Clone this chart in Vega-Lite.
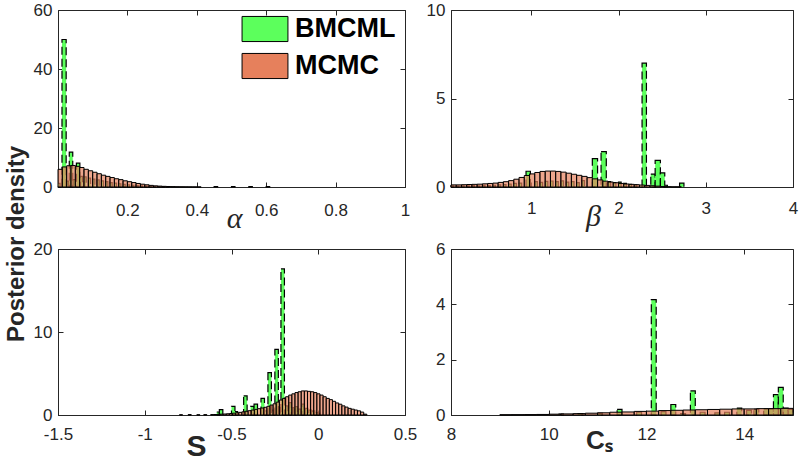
{
  "$schema": "https://vega.github.io/schema/vega-lite/v6.json",
  "background": "white",
  "padding": {"left": 4, "top": 0, "right": 2, "bottom": 0},
  "config": {
    "view": {"stroke": "#262626", "strokeWidth": 1},
    "axis": {"grid": false, "tickSize": -5, "tickColor": "#262626", "domainColor": "#262626", "labelFont": "Liberation Sans", "labelFontSize": 17, "labelColor": "#262626", "labelFlush": false, "labelOverlap": false, "titleColor": "#262626"},
    "bar": {"stroke": "black", "strokeWidth": 1}
  },
  "title": {"text": "Posterior density", "orient": "left", "anchor": "middle", "font": "Liberation Sans", "fontSize": 24, "fontWeight": "bold", "color": "#262626", "offset": 4, "dx": -13},
  "datasets": {
    "A": [
      {"s": "BMCML", "x0": 0.0, "x1": 0.006, "y": 1.2},
      {"s": "BMCML", "x0": 0.0115, "x1": 0.0235, "y": 50},
      {"s": "BMCML", "x0": 0.025, "x1": 0.031, "y": 2.0},
      {"s": "BMCML", "x0": 0.0325, "x1": 0.0425, "y": 11.8},
      {"s": "BMCML", "x0": 0.0435, "x1": 0.05, "y": 2.5},
      {"s": "BMCML", "x0": 0.053, "x1": 0.063, "y": 8.1},
      {"s": "BMCML", "x0": 0.0645, "x1": 0.0705, "y": 3.6},
      {"s": "BMCML", "x0": 0.075, "x1": 0.08125, "y": 3.4},
      {"s": "BMCML", "x0": 0.0875, "x1": 0.09375, "y": 3.0},
      {"s": "BMCML", "x0": 0.1, "x1": 0.10625, "y": 2.7},
      {"s": "BMCML", "x0": 0.1125, "x1": 0.11875, "y": 2.4},
      {"s": "BMCML", "x0": 0.125, "x1": 0.13125, "y": 2.1},
      {"s": "BMCML", "x0": 0.1375, "x1": 0.14375, "y": 1.8},
      {"s": "BMCML", "x0": 0.15, "x1": 0.15625, "y": 1.5},
      {"s": "BMCML", "x0": 0.1625, "x1": 0.16875, "y": 1.3},
      {"s": "BMCML", "x0": 0.175, "x1": 0.18125, "y": 1.1},
      {"s": "BMCML", "x0": 0.1875, "x1": 0.19375, "y": 0.9},
      {"s": "BMCML", "x0": 0.2, "x1": 0.20625, "y": 0.75},
      {"s": "BMCML", "x0": 0.2125, "x1": 0.21875, "y": 0.6},
      {"s": "BMCML", "x0": 0.225, "x1": 0.23125, "y": 0.5},
      {"s": "BMCML", "x0": 0.2375, "x1": 0.24375, "y": 0.4},
      {"s": "BMCML", "x0": 0.25, "x1": 0.25625, "y": 0.3},
      {"s": "BMCML", "x0": 0.2625, "x1": 0.26875, "y": 0.22},
      {"s": "BMCML", "x0": 0.275, "x1": 0.28125, "y": 0.15},
      {"s": "BMCML", "x0": 0.2875, "x1": 0.29375, "y": 0.1},
      {"s": "BMCML", "x0": 0.3, "x1": 0.30625, "y": 0.07},
      {"s": "BMCML", "x0": 0.3125, "x1": 0.31875, "y": 0.05},
      {"s": "BMCML", "x0": 0.45, "x1": 0.46, "y": 0.12},
      {"s": "BMCML", "x0": 0.5, "x1": 0.51, "y": 0.12},
      {"s": "BMCML", "x0": 0.55, "x1": 0.56, "y": 0.12},
      {"s": "BMCML", "x0": 0.6, "x1": 0.61, "y": 0.12},
      {"s": "MCMC", "x0": 0.0, "x1": 0.0125, "y": 6.0},
      {"s": "MCMC", "x0": 0.0125, "x1": 0.025, "y": 6.8},
      {"s": "MCMC", "x0": 0.025, "x1": 0.0375, "y": 7.2},
      {"s": "MCMC", "x0": 0.0375, "x1": 0.05, "y": 7.3},
      {"s": "MCMC", "x0": 0.05, "x1": 0.0625, "y": 7.0},
      {"s": "MCMC", "x0": 0.0625, "x1": 0.075, "y": 6.6},
      {"s": "MCMC", "x0": 0.075, "x1": 0.0875, "y": 6.0},
      {"s": "MCMC", "x0": 0.0875, "x1": 0.1, "y": 5.5},
      {"s": "MCMC", "x0": 0.1, "x1": 0.1125, "y": 5.0},
      {"s": "MCMC", "x0": 0.1125, "x1": 0.125, "y": 4.5},
      {"s": "MCMC", "x0": 0.125, "x1": 0.1375, "y": 4.0},
      {"s": "MCMC", "x0": 0.1375, "x1": 0.15, "y": 3.6},
      {"s": "MCMC", "x0": 0.15, "x1": 0.1625, "y": 3.2},
      {"s": "MCMC", "x0": 0.1625, "x1": 0.175, "y": 2.8},
      {"s": "MCMC", "x0": 0.175, "x1": 0.1875, "y": 2.5},
      {"s": "MCMC", "x0": 0.1875, "x1": 0.2, "y": 2.1},
      {"s": "MCMC", "x0": 0.2, "x1": 0.2125, "y": 1.8},
      {"s": "MCMC", "x0": 0.2125, "x1": 0.225, "y": 1.5},
      {"s": "MCMC", "x0": 0.225, "x1": 0.2375, "y": 1.2},
      {"s": "MCMC", "x0": 0.2375, "x1": 0.25, "y": 0.95},
      {"s": "MCMC", "x0": 0.25, "x1": 0.2625, "y": 0.75},
      {"s": "MCMC", "x0": 0.2625, "x1": 0.275, "y": 0.55},
      {"s": "MCMC", "x0": 0.275, "x1": 0.2875, "y": 0.4},
      {"s": "MCMC", "x0": 0.2875, "x1": 0.3, "y": 0.3},
      {"s": "MCMC", "x0": 0.3, "x1": 0.3125, "y": 0.22},
      {"s": "MCMC", "x0": 0.3125, "x1": 0.325, "y": 0.16},
      {"s": "MCMC", "x0": 0.325, "x1": 0.3375, "y": 0.12},
      {"s": "MCMC", "x0": 0.3375, "x1": 0.35, "y": 0.09},
      {"s": "MCMC", "x0": 0.35, "x1": 0.3625, "y": 0.07},
      {"s": "MCMC", "x0": 0.3625, "x1": 0.375, "y": 0.05},
      {"s": "MCMC", "x0": 0.375, "x1": 0.3875, "y": 0.04},
      {"s": "MCMC", "x0": 0.3875, "x1": 0.4, "y": 0.03},
      {"s": "MCMC", "x0": 0.4, "x1": 0.4125, "y": 0.02}
    ],
    "B": [
      {"s": "BMCML", "x0": 0.08, "x1": 0.11, "y": 0.06},
      {"s": "BMCML", "x0": 0.14, "x1": 0.17, "y": 0.05},
      {"s": "BMCML", "x0": 0.2, "x1": 0.23, "y": 0.07},
      {"s": "BMCML", "x0": 0.26, "x1": 0.29, "y": 0.06},
      {"s": "BMCML", "x0": 0.32, "x1": 0.35, "y": 0.08},
      {"s": "BMCML", "x0": 0.38, "x1": 0.41, "y": 0.07},
      {"s": "BMCML", "x0": 0.44, "x1": 0.47, "y": 0.09},
      {"s": "BMCML", "x0": 0.5, "x1": 0.53, "y": 0.08},
      {"s": "BMCML", "x0": 0.56, "x1": 0.59, "y": 0.1},
      {"s": "BMCML", "x0": 0.62, "x1": 0.65, "y": 0.12},
      {"s": "BMCML", "x0": 0.68, "x1": 0.71, "y": 0.13},
      {"s": "BMCML", "x0": 0.74, "x1": 0.77, "y": 0.16},
      {"s": "BMCML", "x0": 0.8, "x1": 0.83, "y": 0.2},
      {"s": "BMCML", "x0": 0.86, "x1": 0.89, "y": 0.22},
      {"s": "BMCML", "x0": 0.94, "x1": 0.99, "y": 0.89},
      {"s": "BMCML", "x0": 1.04, "x1": 1.07, "y": 0.3},
      {"s": "BMCML", "x0": 1.1, "x1": 1.13, "y": 0.26},
      {"s": "BMCML", "x0": 1.16, "x1": 1.19, "y": 0.32},
      {"s": "BMCML", "x0": 1.22, "x1": 1.25, "y": 0.34},
      {"s": "BMCML", "x0": 1.28, "x1": 1.31, "y": 0.3},
      {"s": "BMCML", "x0": 1.34, "x1": 1.37, "y": 0.35},
      {"s": "BMCML", "x0": 1.4, "x1": 1.43, "y": 0.28},
      {"s": "BMCML", "x0": 1.46, "x1": 1.49, "y": 0.3},
      {"s": "BMCML", "x0": 1.52, "x1": 1.55, "y": 0.25},
      {"s": "BMCML", "x0": 1.58, "x1": 1.61, "y": 0.36},
      {"s": "BMCML", "x0": 1.7, "x1": 1.76, "y": 1.6},
      {"s": "BMCML", "x0": 1.8, "x1": 1.86, "y": 2.0},
      {"s": "BMCML", "x0": 1.88, "x1": 1.91, "y": 0.3},
      {"s": "BMCML", "x0": 1.94, "x1": 1.97, "y": 0.25},
      {"s": "BMCML", "x0": 2.0, "x1": 2.03, "y": 0.28},
      {"s": "BMCML", "x0": 2.06, "x1": 2.09, "y": 0.2},
      {"s": "BMCML", "x0": 2.12, "x1": 2.15, "y": 0.15},
      {"s": "BMCML", "x0": 2.18, "x1": 2.21, "y": 0.12},
      {"s": "BMCML", "x0": 2.27, "x1": 2.32, "y": 7.0},
      {"s": "BMCML", "x0": 2.37, "x1": 2.42, "y": 0.73},
      {"s": "BMCML", "x0": 2.42, "x1": 2.48, "y": 1.5},
      {"s": "BMCML", "x0": 2.48, "x1": 2.53, "y": 0.8},
      {"s": "BMCML", "x0": 2.53, "x1": 2.56, "y": 0.1},
      {"s": "BMCML", "x0": 2.7, "x1": 2.75, "y": 0.22},
      {"s": "MCMC", "x0": 0.08, "x1": 0.14, "y": 0.12},
      {"s": "MCMC", "x0": 0.14, "x1": 0.2, "y": 0.12},
      {"s": "MCMC", "x0": 0.2, "x1": 0.26, "y": 0.13},
      {"s": "MCMC", "x0": 0.26, "x1": 0.32, "y": 0.14},
      {"s": "MCMC", "x0": 0.32, "x1": 0.38, "y": 0.15},
      {"s": "MCMC", "x0": 0.38, "x1": 0.44, "y": 0.16},
      {"s": "MCMC", "x0": 0.44, "x1": 0.5, "y": 0.18},
      {"s": "MCMC", "x0": 0.5, "x1": 0.56, "y": 0.2},
      {"s": "MCMC", "x0": 0.56, "x1": 0.62, "y": 0.22},
      {"s": "MCMC", "x0": 0.62, "x1": 0.68, "y": 0.26},
      {"s": "MCMC", "x0": 0.68, "x1": 0.74, "y": 0.3},
      {"s": "MCMC", "x0": 0.74, "x1": 0.8, "y": 0.36},
      {"s": "MCMC", "x0": 0.8, "x1": 0.86, "y": 0.44},
      {"s": "MCMC", "x0": 0.86, "x1": 0.92, "y": 0.54},
      {"s": "MCMC", "x0": 0.92, "x1": 0.98, "y": 0.65},
      {"s": "MCMC", "x0": 0.98, "x1": 1.04, "y": 0.74},
      {"s": "MCMC", "x0": 1.04, "x1": 1.1, "y": 0.82},
      {"s": "MCMC", "x0": 1.1, "x1": 1.16, "y": 0.88},
      {"s": "MCMC", "x0": 1.16, "x1": 1.22, "y": 0.9},
      {"s": "MCMC", "x0": 1.22, "x1": 1.28, "y": 0.9},
      {"s": "MCMC", "x0": 1.28, "x1": 1.34, "y": 0.88},
      {"s": "MCMC", "x0": 1.34, "x1": 1.4, "y": 0.84},
      {"s": "MCMC", "x0": 1.4, "x1": 1.46, "y": 0.78},
      {"s": "MCMC", "x0": 1.46, "x1": 1.52, "y": 0.72},
      {"s": "MCMC", "x0": 1.52, "x1": 1.58, "y": 0.66},
      {"s": "MCMC", "x0": 1.58, "x1": 1.64, "y": 0.6},
      {"s": "MCMC", "x0": 1.64, "x1": 1.7, "y": 0.53},
      {"s": "MCMC", "x0": 1.7, "x1": 1.76, "y": 0.46},
      {"s": "MCMC", "x0": 1.76, "x1": 1.82, "y": 0.4},
      {"s": "MCMC", "x0": 1.82, "x1": 1.88, "y": 0.33},
      {"s": "MCMC", "x0": 1.88, "x1": 1.94, "y": 0.28},
      {"s": "MCMC", "x0": 1.94, "x1": 2.0, "y": 0.24},
      {"s": "MCMC", "x0": 2.0, "x1": 2.06, "y": 0.2},
      {"s": "MCMC", "x0": 2.06, "x1": 2.12, "y": 0.17},
      {"s": "MCMC", "x0": 2.12, "x1": 2.18, "y": 0.15},
      {"s": "MCMC", "x0": 2.18, "x1": 2.24, "y": 0.13},
      {"s": "MCMC", "x0": 2.24, "x1": 2.3, "y": 0.11},
      {"s": "MCMC", "x0": 2.3, "x1": 2.36, "y": 0.09},
      {"s": "MCMC", "x0": 2.36, "x1": 2.42, "y": 0.07},
      {"s": "MCMC", "x0": 2.42, "x1": 2.48, "y": 0.05},
      {"s": "MCMC", "x0": 2.48, "x1": 2.54, "y": 0.03},
      {"s": "MCMC", "x0": 2.54, "x1": 2.6, "y": 0.02},
      {"s": "MCMC", "x0": 2.6, "x1": 2.66, "y": 0.01},
      {"s": "MCMC", "x0": 2.66, "x1": 2.72, "y": 0.01}
    ],
    "C": [
      {"s": "BMCML", "x0": -0.585, "x1": -0.57, "y": 0.36},
      {"s": "BMCML", "x0": -0.57, "x1": -0.55, "y": 0.64},
      {"s": "BMCML", "x0": -0.5, "x1": -0.48, "y": 1.04},
      {"s": "BMCML", "x0": -0.48, "x1": -0.465, "y": 0.4},
      {"s": "BMCML", "x0": -0.43, "x1": -0.41, "y": 2.3},
      {"s": "BMCML", "x0": -0.39, "x1": -0.37, "y": 1.04},
      {"s": "BMCML", "x0": -0.37, "x1": -0.35, "y": 1.3},
      {"s": "BMCML", "x0": -0.33, "x1": -0.31, "y": 2.0},
      {"s": "BMCML", "x0": -0.305, "x1": -0.295, "y": 0.5},
      {"s": "BMCML", "x0": -0.29, "x1": -0.27, "y": 5.1},
      {"s": "BMCML", "x0": -0.265, "x1": -0.255, "y": 0.6},
      {"s": "BMCML", "x0": -0.25, "x1": -0.23, "y": 7.9},
      {"s": "BMCML", "x0": -0.228, "x1": -0.218, "y": 0.9},
      {"s": "BMCML", "x0": -0.215, "x1": -0.195, "y": 17.6},
      {"s": "BMCML", "x0": -0.19, "x1": -0.175, "y": 1.1},
      {"s": "BMCML", "x0": -0.17, "x1": -0.155, "y": 1.5},
      {"s": "BMCML", "x0": -0.15, "x1": -0.14, "y": 0.9},
      {"s": "BMCML", "x0": -0.135, "x1": -0.12, "y": 1.0},
      {"s": "BMCML", "x0": -0.115, "x1": -0.1, "y": 0.7},
      {"s": "BMCML", "x0": -0.095, "x1": -0.08, "y": 1.3},
      {"s": "BMCML", "x0": -0.075, "x1": -0.06, "y": 0.8},
      {"s": "BMCML", "x0": -0.055, "x1": -0.04, "y": 0.6},
      {"s": "BMCML", "x0": -0.035, "x1": -0.02, "y": 0.5},
      {"s": "BMCML", "x0": -0.015, "x1": 0.0, "y": 0.3},
      {"s": "BMCML", "x0": 0.0, "x1": 0.01, "y": 0.2},
      {"s": "MCMC", "x0": -0.8, "x1": -0.782, "y": 0.03},
      {"s": "MCMC", "x0": -0.75, "x1": -0.732, "y": 0.05},
      {"s": "MCMC", "x0": -0.7, "x1": -0.682, "y": 0.03},
      {"s": "MCMC", "x0": -0.66, "x1": -0.642, "y": 0.04},
      {"s": "MCMC", "x0": -0.62, "x1": -0.602, "y": 0.05},
      {"s": "MCMC", "x0": -0.602, "x1": -0.584, "y": 0.06},
      {"s": "MCMC", "x0": -0.584, "x1": -0.566, "y": 0.08},
      {"s": "MCMC", "x0": -0.566, "x1": -0.548, "y": 0.1},
      {"s": "MCMC", "x0": -0.548, "x1": -0.53, "y": 0.12},
      {"s": "MCMC", "x0": -0.53, "x1": -0.512, "y": 0.15},
      {"s": "MCMC", "x0": -0.512, "x1": -0.494, "y": 0.18},
      {"s": "MCMC", "x0": -0.494, "x1": -0.476, "y": 0.22},
      {"s": "MCMC", "x0": -0.476, "x1": -0.458, "y": 0.27},
      {"s": "MCMC", "x0": -0.458, "x1": -0.44, "y": 0.32},
      {"s": "MCMC", "x0": -0.44, "x1": -0.422, "y": 0.38},
      {"s": "MCMC", "x0": -0.422, "x1": -0.404, "y": 0.45},
      {"s": "MCMC", "x0": -0.404, "x1": -0.386, "y": 0.52},
      {"s": "MCMC", "x0": -0.386, "x1": -0.368, "y": 0.6},
      {"s": "MCMC", "x0": -0.368, "x1": -0.35, "y": 0.68},
      {"s": "MCMC", "x0": -0.35, "x1": -0.332, "y": 0.76},
      {"s": "MCMC", "x0": -0.332, "x1": -0.314, "y": 0.84},
      {"s": "MCMC", "x0": -0.314, "x1": -0.296, "y": 0.93},
      {"s": "MCMC", "x0": -0.296, "x1": -0.278, "y": 1.05},
      {"s": "MCMC", "x0": -0.278, "x1": -0.26, "y": 1.2},
      {"s": "MCMC", "x0": -0.26, "x1": -0.242, "y": 1.35},
      {"s": "MCMC", "x0": -0.242, "x1": -0.224, "y": 1.55},
      {"s": "MCMC", "x0": -0.224, "x1": -0.206, "y": 1.8},
      {"s": "MCMC", "x0": -0.206, "x1": -0.188, "y": 2.0},
      {"s": "MCMC", "x0": -0.188, "x1": -0.17, "y": 2.2},
      {"s": "MCMC", "x0": -0.17, "x1": -0.152, "y": 2.4},
      {"s": "MCMC", "x0": -0.152, "x1": -0.134, "y": 2.55},
      {"s": "MCMC", "x0": -0.134, "x1": -0.116, "y": 2.7},
      {"s": "MCMC", "x0": -0.116, "x1": -0.098, "y": 2.8},
      {"s": "MCMC", "x0": -0.098, "x1": -0.08, "y": 2.9},
      {"s": "MCMC", "x0": -0.08, "x1": -0.062, "y": 2.9},
      {"s": "MCMC", "x0": -0.062, "x1": -0.044, "y": 2.85},
      {"s": "MCMC", "x0": -0.044, "x1": -0.026, "y": 2.8},
      {"s": "MCMC", "x0": -0.026, "x1": -0.008, "y": 2.7},
      {"s": "MCMC", "x0": -0.008, "x1": 0.01, "y": 2.55},
      {"s": "MCMC", "x0": 0.01, "x1": 0.028, "y": 2.4},
      {"s": "MCMC", "x0": 0.028, "x1": 0.046, "y": 2.2},
      {"s": "MCMC", "x0": 0.046, "x1": 0.064, "y": 2.0},
      {"s": "MCMC", "x0": 0.064, "x1": 0.082, "y": 1.85},
      {"s": "MCMC", "x0": 0.082, "x1": 0.1, "y": 1.65},
      {"s": "MCMC", "x0": 0.1, "x1": 0.118, "y": 1.45},
      {"s": "MCMC", "x0": 0.118, "x1": 0.136, "y": 1.3},
      {"s": "MCMC", "x0": 0.136, "x1": 0.154, "y": 1.1},
      {"s": "MCMC", "x0": 0.154, "x1": 0.172, "y": 0.95},
      {"s": "MCMC", "x0": 0.172, "x1": 0.19, "y": 0.8},
      {"s": "MCMC", "x0": 0.19, "x1": 0.208, "y": 0.7},
      {"s": "MCMC", "x0": 0.208, "x1": 0.226, "y": 0.6},
      {"s": "MCMC", "x0": 0.226, "x1": 0.244, "y": 0.5},
      {"s": "MCMC", "x0": 0.244, "x1": 0.262, "y": 0.35},
      {"s": "MCMC", "x0": 0.262, "x1": 0.28, "y": 0.1}
    ],
    "D": [
      {"s": "BMCML", "x0": 10.2, "x1": 10.3, "y": 0.03},
      {"s": "BMCML", "x0": 10.6, "x1": 10.7, "y": 0.05},
      {"s": "BMCML", "x0": 11.0, "x1": 11.1, "y": 0.06},
      {"s": "BMCML", "x0": 11.4, "x1": 11.5, "y": 0.2},
      {"s": "BMCML", "x0": 11.8, "x1": 11.9, "y": 0.1},
      {"s": "BMCML", "x0": 12.1, "x1": 12.2, "y": 4.17},
      {"s": "BMCML", "x0": 12.3, "x1": 12.4, "y": 0.12},
      {"s": "BMCML", "x0": 12.5, "x1": 12.6, "y": 0.38},
      {"s": "BMCML", "x0": 12.7, "x1": 12.8, "y": 0.05},
      {"s": "BMCML", "x0": 12.9, "x1": 13.0, "y": 0.87},
      {"s": "BMCML", "x0": 13.1, "x1": 13.2, "y": 0.1},
      {"s": "BMCML", "x0": 13.4, "x1": 13.5, "y": 0.08},
      {"s": "BMCML", "x0": 13.6, "x1": 13.7, "y": 0.1},
      {"s": "BMCML", "x0": 13.85, "x1": 13.95, "y": 0.25},
      {"s": "BMCML", "x0": 14.05, "x1": 14.15, "y": 0.17},
      {"s": "BMCML", "x0": 14.2, "x1": 14.3, "y": 0.2},
      {"s": "BMCML", "x0": 14.4, "x1": 14.5, "y": 0.22},
      {"s": "BMCML", "x0": 14.5, "x1": 14.6, "y": 0.22},
      {"s": "BMCML", "x0": 14.6, "x1": 14.7, "y": 0.74},
      {"s": "BMCML", "x0": 14.7, "x1": 14.8, "y": 1.0},
      {"s": "BMCML", "x0": 14.8, "x1": 14.9, "y": 0.25},
      {"s": "BMCML", "x0": 14.9, "x1": 15.0, "y": 0.2},
      {"s": "MCMC", "x0": 9.0, "x1": 9.25, "y": 0.01},
      {"s": "MCMC", "x0": 9.25, "x1": 9.5, "y": 0.012},
      {"s": "MCMC", "x0": 9.5, "x1": 9.75, "y": 0.015},
      {"s": "MCMC", "x0": 9.75, "x1": 10.0, "y": 0.02},
      {"s": "MCMC", "x0": 10.0, "x1": 10.25, "y": 0.03},
      {"s": "MCMC", "x0": 10.25, "x1": 10.5, "y": 0.04},
      {"s": "MCMC", "x0": 10.5, "x1": 10.75, "y": 0.05},
      {"s": "MCMC", "x0": 10.75, "x1": 11.0, "y": 0.065},
      {"s": "MCMC", "x0": 11.0, "x1": 11.25, "y": 0.08},
      {"s": "MCMC", "x0": 11.25, "x1": 11.5, "y": 0.1},
      {"s": "MCMC", "x0": 11.5, "x1": 11.75, "y": 0.11},
      {"s": "MCMC", "x0": 11.75, "x1": 12.0, "y": 0.13},
      {"s": "MCMC", "x0": 12.0, "x1": 12.25, "y": 0.14},
      {"s": "MCMC", "x0": 12.25, "x1": 12.5, "y": 0.16},
      {"s": "MCMC", "x0": 12.5, "x1": 12.75, "y": 0.17},
      {"s": "MCMC", "x0": 12.75, "x1": 13.0, "y": 0.18},
      {"s": "MCMC", "x0": 13.0, "x1": 13.25, "y": 0.19},
      {"s": "MCMC", "x0": 13.25, "x1": 13.5, "y": 0.2},
      {"s": "MCMC", "x0": 13.5, "x1": 13.75, "y": 0.21},
      {"s": "MCMC", "x0": 13.75, "x1": 14.0, "y": 0.22},
      {"s": "MCMC", "x0": 14.0, "x1": 14.25, "y": 0.22},
      {"s": "MCMC", "x0": 14.25, "x1": 14.5, "y": 0.23},
      {"s": "MCMC", "x0": 14.5, "x1": 14.75, "y": 0.23},
      {"s": "MCMC", "x0": 14.75, "x1": 15.0, "y": 0.24}
    ]
  },
  "bounds": "flush",
  "columns": 2,
  "spacing": {"row": 62, "column": 46},
  "concat": [
    {
      "width": 347, "height": 177,
      "data": {"name": "A"},
      "layer": [
        {
          "transform": [{"filter": "datum.s === 'BMCML'"}],
          "mark": {"type": "bar", "strokeDash": [8, 4], "strokeWidth": 1.2, "fillOpacity": 1},
          "encoding": {
            "x": {"field": "x0", "type": "quantitative", "scale": {"domain": [0, 1], "nice": false, "zero": false}, "axis": {"orient": "bottom", "values": [0.2, 0.4, 0.6, 0.8, 1], "labelExpr": "'' + datum.value", "labelPadding": 20, "title": "α", "titleFont": "Liberation Serif", "titleFontStyle": "italic", "titleFontWeight": "normal", "titleFontSize": 30, "titleX": 176, "titleY": 40, "titleBaseline": "alphabetic", "titleAlign": "center"}},
            "x2": {"field": "x1"},
            "y": {"field": "y", "type": "quantitative", "scale": {"domain": [0, 60], "nice": false}, "axis": {"orient": "left", "values": [0, 20, 40, 60], "labelPadding": 11, "title": null}},
            "y2": {"datum": 0},
            "color": {"field": "s", "type": "nominal", "scale": {"domain": ["BMCML", "MCMC"], "range": ["#5CFF5C", "#E6805C"]},
              "legend": {"title": null, "orient": "none", "legendX": 193, "legendY": 5, "padding": 0, "symbolType": "M-1.7,-0.93H1.7V0.93H-1.7Z", "symbolSize": 729, "rowPadding": 7, "labelOffset": 16, "labelFont": "Liberation Sans", "labelFontSize": 27, "labelFontWeight": "bold", "labelColor": "black",
                "encode": {"symbols": {"update": {"stroke": {"value": "black"}, "strokeWidth": {"value": 1.5}, "opacity": {"value": 1}, "fillOpacity": {"signal": "datum.value === 'BMCML' ? 1 : 0.78"}, "strokeDash": {"signal": "datum.value === 'BMCML' ? [8, 4] : [1, 0]"}}}}}}
          }
        },
        {
          "transform": [{"filter": "datum.s === 'MCMC'"}],
          "mark": {"type": "bar", "fillOpacity": 0.7},
          "encoding": {
            "x": {"field": "x0", "type": "quantitative", "scale": {"domain": [0, 1], "nice": false, "zero": false}, "axis": {"orient": "top", "values": [0.2, 0.4, 0.6, 0.8, 1], "labels": false, "title": null, "domain": false}},
            "x2": {"field": "x1"},
            "y": {"field": "y", "type": "quantitative", "scale": {"domain": [0, 60], "nice": false}, "axis": {"orient": "right", "values": [0, 20, 40, 60], "labels": false, "title": null, "domain": false}},
            "y2": {"datum": 0},
            "color": {"field": "s", "type": "nominal", "scale": {"domain": ["BMCML", "MCMC"], "range": ["#5CFF5C", "#E6805C"]}}
          }
        }
      ]
    },
    {
      "width": 342, "height": 177,
      "data": {"name": "B"},
      "layer": [
        {
          "transform": [{"filter": "datum.s === 'BMCML'"}],
          "mark": {"type": "bar", "strokeDash": [8, 4], "strokeWidth": 1.2, "fill": "#5CFF5C", "fillOpacity": 1},
          "encoding": {
            "x": {"field": "x0", "type": "quantitative", "scale": {"domain": [0.08, 4], "nice": false, "zero": false}, "axis": {"orient": "bottom", "values": [1, 2, 3, 4], "labelExpr": "'' + datum.value", "labelPadding": 18, "title": "β", "titleFont": "Liberation Serif", "titleFontStyle": "italic", "titleFontWeight": "normal", "titleFontSize": 30, "titleX": 142, "titleY": 38, "titleBaseline": "alphabetic", "titleAlign": "center"}},
            "x2": {"field": "x1"},
            "y": {"field": "y", "type": "quantitative", "scale": {"domain": [0, 10], "nice": false}, "axis": {"orient": "left", "values": [0, 5, 10], "labelPadding": 11, "title": null}},
            "y2": {"datum": 0}
          }
        },
        {
          "transform": [{"filter": "datum.s === 'MCMC'"}],
          "mark": {"type": "bar", "fill": "#E6805C", "fillOpacity": 0.7},
          "encoding": {
            "x": {"field": "x0", "type": "quantitative", "scale": {"domain": [0.08, 4], "nice": false, "zero": false}, "axis": {"orient": "top", "values": [1, 2, 3, 4], "labels": false, "title": null, "domain": false}},
            "x2": {"field": "x1"},
            "y": {"field": "y", "type": "quantitative", "scale": {"domain": [0, 10], "nice": false}, "axis": {"orient": "right", "values": [0, 5, 10], "labels": false, "title": null, "domain": false}},
            "y2": {"datum": 0}
          }
        }
      ]
    },
    {
      "width": 347, "height": 166,
      "data": {"name": "C"},
      "layer": [
        {
          "transform": [{"filter": "datum.s === 'BMCML'"}],
          "mark": {"type": "bar", "strokeDash": [8, 4], "strokeWidth": 1.2, "fill": "#5CFF5C", "fillOpacity": 1},
          "encoding": {
            "x": {"field": "x0", "type": "quantitative", "scale": {"domain": [-1.5, 0.5], "nice": false, "zero": false}, "axis": {"orient": "bottom", "values": [-1.5, -1, -0.5, 0, 0.5], "labelExpr": "'' + datum.value", "labelPadding": 16, "title": "S", "titleFont": "Liberation Sans", "titleFontWeight": "bold", "titleFontSize": 30, "titleX": 138, "titleY": 40, "titleBaseline": "alphabetic", "titleAlign": "center"}},
            "x2": {"field": "x1"},
            "y": {"field": "y", "type": "quantitative", "scale": {"domain": [0, 20], "nice": false}, "axis": {"orient": "left", "values": [0, 10, 20], "labelPadding": 11, "title": null}},
            "y2": {"datum": 0}
          }
        },
        {
          "transform": [{"filter": "datum.s === 'MCMC'"}],
          "mark": {"type": "bar", "fill": "#E6805C", "fillOpacity": 0.7},
          "encoding": {
            "x": {"field": "x0", "type": "quantitative", "scale": {"domain": [-1.5, 0.5], "nice": false, "zero": false}, "axis": {"orient": "top", "values": [-1.5, -1, -0.5, 0, 0.5], "labels": false, "title": null, "domain": false}},
            "x2": {"field": "x1"},
            "y": {"field": "y", "type": "quantitative", "scale": {"domain": [0, 20], "nice": false}, "axis": {"orient": "right", "values": [0, 10, 20], "labels": false, "title": null, "domain": false}},
            "y2": {"datum": 0}
          }
        }
      ]
    },
    {
      "width": 342, "height": 166,
      "data": {"name": "D"},
      "layer": [
        {
          "transform": [{"filter": "datum.s === 'BMCML'"}],
          "mark": {"type": "bar", "strokeDash": [8, 4], "strokeWidth": 1.2, "fill": "#5CFF5C", "fillOpacity": 1},
          "encoding": {
            "x": {"field": "x0", "type": "quantitative", "scale": {"domain": [8, 15], "nice": false, "zero": false}, "axis": {"orient": "bottom", "values": [8, 10, 12, 14], "labelExpr": "'' + datum.value", "labelPadding": 16, "title": "Cₛ", "titleFont": "Liberation Sans", "titleFontWeight": "bold", "titleFontSize": 26, "titleX": 148, "titleY": 33, "titleBaseline": "alphabetic", "titleAlign": "center"}},
            "x2": {"field": "x1"},
            "y": {"field": "y", "type": "quantitative", "scale": {"domain": [0, 6], "nice": false}, "axis": {"orient": "left", "values": [0, 2, 4, 6], "labelPadding": 11, "title": null}},
            "y2": {"datum": 0}
          }
        },
        {
          "transform": [{"filter": "datum.s === 'MCMC'"}],
          "mark": {"type": "bar", "fill": "#E6805C", "fillOpacity": 0.7},
          "encoding": {
            "x": {"field": "x0", "type": "quantitative", "scale": {"domain": [8, 15], "nice": false, "zero": false}, "axis": {"orient": "top", "values": [8, 10, 12, 14], "labels": false, "title": null, "domain": false}},
            "x2": {"field": "x1"},
            "y": {"field": "y", "type": "quantitative", "scale": {"domain": [0, 6], "nice": false}, "axis": {"orient": "right", "values": [0, 2, 4, 6], "labels": false, "title": null, "domain": false}},
            "y2": {"datum": 0}
          }
        }
      ]
    }
  ]
}
